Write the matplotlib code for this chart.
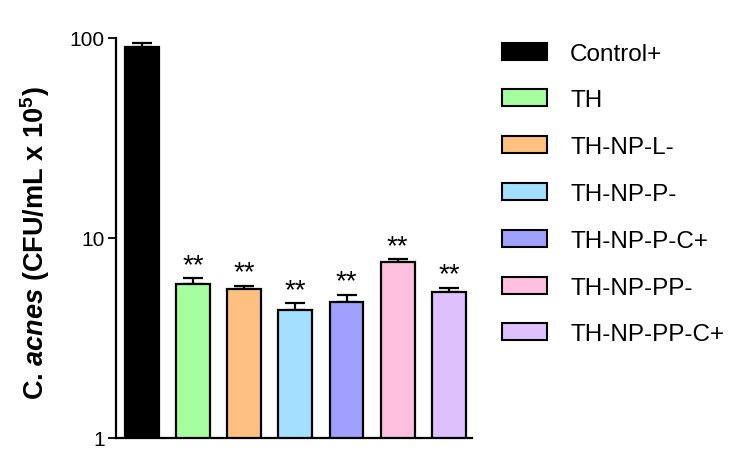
import matplotlib
matplotlib.use("Agg")
import matplotlib.pyplot as plt
from matplotlib.patches import Patch
import numpy as np

plt.rcParams['font.family'] = ['Liberation Sans', 'DejaVu Sans']
plt.rcParams['mathtext.fontset'] = 'custom'
plt.rcParams['mathtext.rm'] = 'Liberation Sans'
plt.rcParams['mathtext.bf'] = 'Liberation Sans:bold'
plt.rcParams['mathtext.bfit'] = 'Liberation Sans:bold:italic'

# data
groups = ["Control+", "TH", "TH-NP-L-", "TH-NP-P-", "TH-NP-P-C+", "TH-NP-PP-", "TH-NP-PP-C+"]
means = [90.0, 5.9, 5.56, 4.38, 4.8, 7.6, 5.35]
errors = [4.4, 0.4, 0.2, 0.35, 0.4, 0.22, 0.28]
stars = ["", "**", "**", "**", "**", "**", "**"]
colors = ["#000000", "#a6ff9e", "#ffc080", "#a3e0ff", "#a0a0ff", "#ffc0e0", "#dfc0ff"]

fig = plt.figure(figsize=(7.48, 4.6), dpi=100)
ax = fig.add_axes([116/748, 1-439/460, (472-116)/748, 400/460])

x = np.arange(len(groups))
ax.bar(x, means, width=0.66, color=colors, edgecolor='black', linewidth=1.6, zorder=2)
ax.errorbar(x, means, yerr=[np.zeros(len(means)), errors], fmt='none', ecolor='black',
            elinewidth=1.6, capsize=7, capthick=1.6, zorder=1)

for xi, m, e, s in zip(x, means, errors, stars):
    if s:
        ax.annotate(s, (xi, m + e), xytext=(0, 4.5), textcoords='offset points',
                    ha='center', va='baseline', fontsize=20)

ax.set_yscale('log')
ax.set_ylim(1, 100)
ax.set_xlim(-0.5, len(groups) - 0.55)
ax.set_yticks([1, 10, 100])
ax.set_yticklabels(["1", "10", "100"])
ax.yaxis.set_minor_locator(matplotlib.ticker.NullLocator())
ax.tick_params(axis='y', labelsize=15, length=6, width=1.3, direction='out', pad=2)
ax.set_xticks([])
for side in ['top', 'right']:
    ax.spines[side].set_visible(False)
for side in ['left', 'bottom']:
    ax.spines[side].set_linewidth(1.6)

ax.set_ylabel(r"C. $\mathbfit{acnes}$ (CFU/mL x 10$^{\mathbf{5}}$)", fontsize=19.5,
              fontweight='bold')
ax.yaxis.set_label_coords(-0.179, 0.49)

handles = [Patch(facecolor=c, edgecolor='black', linewidth=1.5) for c in colors]
fig.legend(handles, groups, loc='upper left', bbox_to_anchor=(502/748, 1-43.5/460),
           frameon=False, fontsize=17.5, borderpad=0, borderaxespad=0,
           handlelength=1.85, handleheight=0.7, handletextpad=0.95, labelspacing=1.02)

fig.savefig("out.png", dpi=100)
